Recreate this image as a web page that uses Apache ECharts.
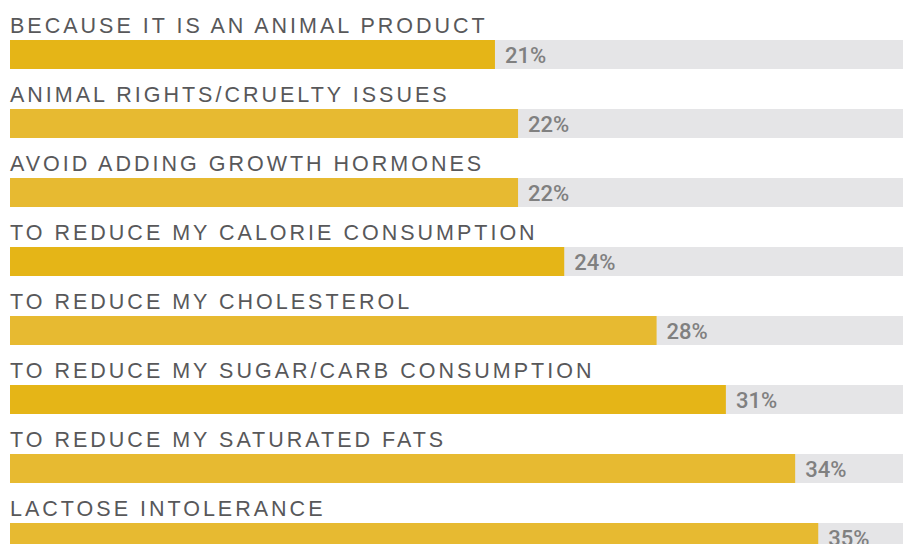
<!DOCTYPE html>
<html>
<head>
<meta charset="utf-8">
<script src="https://cdn.jsdelivr.net/npm/echarts@6/dist/echarts.min.js"></script>
<style>
	html, body { margin: 0; padding: 0; background: #fff; }
	#chart { width: 903px; height: 544px; }
</style>
</head>
<body>
<div id="chart"></div>
<script>
var categories = [
	'BECAUSE IT IS AN ANIMAL PRODUCT',
	'ANIMAL RIGHTS/CRUELTY ISSUES',
	'AVOID ADDING GROWTH HORMONES',
	'TO REDUCE MY CALORIE CONSUMPTION',
	'TO REDUCE MY CHOLESTEROL',
	'TO REDUCE MY SUGAR/CARB CONSUMPTION',
	'TO REDUCE MY SATURATED FATS',
	'LACTOSE INTOLERANCE'
];
var percents = [21, 22, 22, 24, 28, 31, 34, 35];

var axisMax = 38.67;

// two shades of yellow alternate a bit in the original
var darkYellow = '#E5B517';
var lightYellow = '#E7BA31';
var darkRows = [0, 3, 5];

function spaceLabels(dom) {
	// category titles are tracked out in the original
	var texts = dom.querySelectorAll('text');
	for (var i = 0; i < texts.length; i++) {
		if (categories.indexOf(texts[i].textContent) >= 0) {
			texts[i].style.letterSpacing = '3px';
		}
	}
}

function createChart() {
	var dom = document.getElementById('chart');
	var myChart = echarts.init(dom, null, { renderer: 'svg' });

	var option = {
		animation: false,
		grid: {
			left: 10,
			top: 20,
			width: 893,
			height: 552,
			outerBoundsMode: 'none'
		},
		xAxis: {
			type: 'value',
			min: 0,
			max: axisMax,
			show: false
		},
		yAxis: {
			type: 'category',
			inverse: true,
			data: categories,
			show: false
		},
		series: [{
			// grey track, carries the category title above it
			type: 'bar',
			barWidth: 29,
			silent: true,
			itemStyle: { color: '#E5E5E7' },
			data: categories.map(function() { return axisMax; }),
			label: {
				show: true,
				position: [0, -14],
				verticalAlign: 'middle',
				formatter: '{b}',
				color: '#58585A',
				fontFamily: 'Liberation Sans',
				fontSize: 21.5
			}
		}, {
			type: 'bar',
			barWidth: 29,
			barGap: '-100%',
			data: percents.map(function(v, i) {
				return {
					value: v,
					itemStyle: { color: darkRows.indexOf(i) >= 0 ? darkYellow : lightYellow }
				};
			}),
			label: {
				show: true,
				position: 'right',
				distance: 10,
				offset: [0, 1],
				formatter: '{c}%',
				color: '#808080',
				fontFamily: 'Roboto',
				fontWeight: 500,
				fontSize: 22
			}
		}]
	};

	myChart.setOption(option);
	myChart.on('finished', function() { spaceLabels(dom); });
	spaceLabels(dom);
	setTimeout(function() { spaceLabels(dom); }, 50);
}

createChart();
</script>
</body>
</html>
